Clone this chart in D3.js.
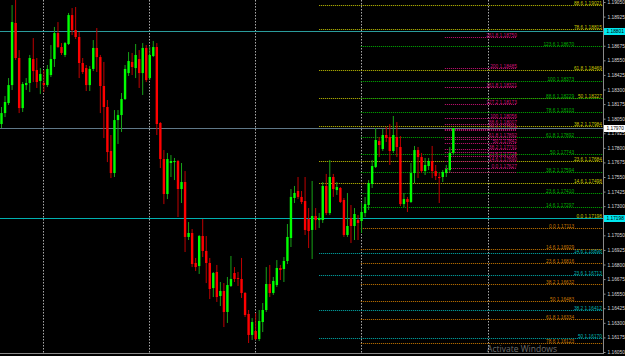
<!DOCTYPE html>
<html>
<head>
<meta charset="utf-8">
<script src="https://cdn.jsdelivr.net/npm/d3@7"></script>
<style>
  html, body { margin: 0; padding: 0; background: #000; overflow: hidden; }
</style>
</head>
<body>
<div id="chart"></div>
<script>
// Candle data, oldest first
const opens = [1.18004,1.18098,1.18184,1.18338,1.18870,1.18570,1.18141,1.18338,1.18356,1.18561,
  1.18467,1.18373,1.18356,1.18338,1.18424,1.18561,1.18784,1.18664,1.18596,1.18690,
  1.18938,1.18810,1.18750,1.18527,1.18484,1.18338,1.18476,1.18656,1.18578,1.18330,
  1.18150,1.17773,1.17584,1.18038,1.18081,1.18218,1.18441,1.18536,1.18484,1.18561,
  1.18441,1.18656,1.18398,1.18587,1.18664,1.18013,1.17704,1.17404,1.17670,1.17678,
  1.17687,1.17447,1.17507,1.17036,1.17070,1.16813,1.16787,1.17044,1.16916,1.16813,
  1.16598,1.16736,1.16530,1.16573,1.16393,1.16616,1.16727,1.16684,1.16676,1.16556,
  1.16376,1.16196,1.16230,1.16161,1.16307,1.16410,1.16633,1.16556,1.16624,1.16770,
  1.16761,1.16830,1.17027,1.17370,1.17430,1.17379,1.17344,1.17190,1.17096,1.17216,
  1.17181,1.17181,1.17473,1.17241,1.17550,1.17438,1.17456,1.17353,1.17053,1.17199,
  1.17130,1.17181,1.17173,1.17241,1.17310,1.17490,1.17636,1.17858,1.17790,1.17910,
  1.17893,1.17773,1.17893,1.17807,1.17318,1.17361,1.17336,1.17584,1.17781,1.17721,
  1.17601,1.17644,1.17687,1.17601,1.17550,1.17550,1.17584,1.17610,1.17756];
const highs = [1.18150,1.18244,1.18398,1.19024,1.19067,1.18638,1.18364,1.18398,1.18596,1.18741,
  1.18570,1.18484,1.18467,1.18510,1.18681,1.18836,1.18878,1.18698,1.18707,1.18956,
  1.18998,1.19007,1.18793,1.18570,1.18510,1.18501,1.18724,1.18827,1.18596,1.18536,
  1.18210,1.17910,1.18124,1.18124,1.18270,1.18510,1.18621,1.18613,1.18690,1.18638,
  1.18698,1.18681,1.18664,1.18716,1.18698,1.18021,1.17781,1.17756,1.17738,1.17713,
  1.17696,1.17670,1.17601,1.17164,1.17104,1.16856,1.17053,1.17190,1.17044,1.16856,
  1.16736,1.16796,1.16650,1.16641,1.16693,1.16873,1.16778,1.16736,1.16856,1.16564,
  1.16410,1.16341,1.16384,1.16410,1.16470,1.16778,1.16796,1.16693,1.16838,1.16796,
  1.16864,1.17147,1.17447,1.17473,1.17550,1.17430,1.17550,1.17284,1.17516,1.17284,
  1.17241,1.17507,1.17576,1.17696,1.17576,1.17507,1.17464,1.17370,1.17413,1.17310,
  1.17284,1.17224,1.17327,1.17379,1.17524,1.17696,1.17970,1.17893,1.17961,1.17978,
  1.18004,1.18073,1.18021,1.17901,1.17413,1.17379,1.17670,1.17816,1.17807,1.17756,
  1.17713,1.17713,1.17816,1.17653,1.17584,1.17610,1.17653,1.17807,1.17970];
const lows = [1.17970,1.18064,1.18167,1.18296,1.18553,1.18098,1.18107,1.18296,1.18278,1.18364,
  1.18313,1.18261,1.18278,1.18321,1.18407,1.18493,1.18656,1.18596,1.18578,1.18681,
  1.18767,1.18733,1.18398,1.18433,1.18287,1.18287,1.18458,1.18450,1.18098,1.17884,
  1.17678,1.17541,1.17550,1.17833,1.17936,1.18210,1.18416,1.18424,1.18398,1.18313,
  1.18253,1.18364,1.18381,1.18578,1.17910,1.17627,1.17318,1.17361,1.17550,1.17524,
  1.17207,1.17327,1.16907,1.17010,1.16778,1.16744,1.16719,1.16864,1.16641,1.16504,
  1.16521,1.16479,1.16444,1.16264,1.16299,1.16607,1.16650,1.16616,1.16513,1.16350,
  1.16127,1.16153,1.16153,1.16144,1.16221,1.16393,1.16521,1.16539,1.16607,1.16667,
  1.16650,1.16804,1.16950,1.17327,1.17361,1.17318,1.17053,1.16941,1.16847,1.17096,
  1.17113,1.17156,1.17224,1.17224,1.17379,1.17396,1.17327,1.17036,1.17036,1.16984,
  1.17010,1.17010,1.17070,1.17207,1.17267,1.17456,1.17627,1.17721,1.17773,1.17850,
  1.17653,1.17756,1.17721,1.17301,1.17293,1.17250,1.17327,1.17498,1.17541,1.17584,
  1.17567,1.17610,1.17541,1.17524,1.17327,1.17507,1.17550,1.17593,1.17738];
const closes = [1.18098,1.18193,1.18338,1.18878,1.18570,1.18141,1.18347,1.18356,1.18570,1.18458,
  1.18364,1.18433,1.18338,1.18476,1.18561,1.18784,1.18664,1.18613,1.18698,1.18938,
  1.18810,1.18750,1.18527,1.18450,1.18338,1.18476,1.18656,1.18578,1.18330,1.18150,
  1.17764,1.17584,1.18038,1.18081,1.18218,1.18476,1.18544,1.18493,1.18596,1.18441,
  1.18656,1.18381,1.18596,1.18664,1.18004,1.17704,1.17404,1.17704,1.17687,1.17687,
  1.17447,1.17507,1.17036,1.17070,1.16804,1.16778,1.17044,1.16916,1.16813,1.16590,
  1.16727,1.16521,1.16573,1.16393,1.16624,1.16676,1.16676,1.16676,1.16556,1.16367,
  1.16196,1.16307,1.16161,1.16316,1.16410,1.16633,1.16556,1.16659,1.16770,1.16753,
  1.16830,1.17036,1.17379,1.17413,1.17379,1.17336,1.17096,1.17087,1.17216,1.17181,
  1.17199,1.17473,1.17241,1.17550,1.17447,1.17464,1.17336,1.17053,1.17130,1.17130,
  1.17233,1.17156,1.17250,1.17318,1.17498,1.17644,1.17867,1.17824,1.17910,1.17884,
  1.17773,1.17910,1.17807,1.17318,1.17361,1.17336,1.17584,1.17781,1.17721,1.17601,
  1.17653,1.17687,1.17601,1.17558,1.17541,1.17593,1.17618,1.17756,1.17970];

// price scale labels
const tickLabels = ["1.19050","1.18925","1.18800","1.18675","1.18550","1.18425","1.18300","1.18175",
  "1.18050","1.17925","1.17800","1.17675","1.17550","1.17425","1.17300","1.17175","1.17050",
  "1.16925","1.16800","1.16675","1.16550","1.16425","1.16300","1.16175","1.16050"];

// period separators (bar index)
const separators = [11.75, 41.75, 71.75, 101.75, 137.75];

// horizontal lines
const hLinePrices = [1.18801, 1.17198];

// fibonacci levels
const yellowLevels = ["0.0","14.6","23.6","38.2","50","61.8","78.6","88.6"];
const yellowPrices = [1.17198,1.17498,1.17684,1.17984,1.18227,1.18469,1.18815,1.19021];
const cyanLevels = ["14.6","23.6","38.2","50"];
const cyanPrices = [1.16898,1.16713,1.16412,1.16170];
const greenLevels = ["14.6","23.6","38.2","50","61.8","78.6","88.6","100","123.6"];
const greenPrices = [1.17297,1.17410,1.17594,1.17743,1.17892,1.18103,1.18229,1.18373,1.18670];
const orangeLevels = ["0.0","14.6","23.6","38.2","50","61.8","78.6"];
const orangePrices = [1.17113,1.16929,1.16816,1.16632,1.16483,1.16334,1.16123];
const pinkLevels = ["0.0","14.6","23.6","38.2","50","61.8","78.6","88.6","100","127.2","161.8","200","261.8"];
const pinkPrices = [1.17627,1.17690,1.17728,1.17791,1.17842,1.17892,1.17964,1.18007,1.18056,1.18173,1.18321,1.18485,1.18750];
const pink2Prices = [1.17593,1.17768,1.17876,1.17953];

const W = 625, H = 356, plotRight = 603, plotBottom = 353;
const font = "'Liberation Sans', Arial, sans-serif";

const svg = d3.select("#chart").append("svg")
    .attr("width", W).attr("height", H)
    .style("background", "#000")
    .style("display", "block");

const x = d3.scaleLinear().domain([0, 170]).range([1.5, 1.5 + 170 * 3.53]);
const y = d3.scaleLinear().domain([1.16050, 1.19050]).range([352, 2]);
const fmt = d3.format(".5f");

const plot = svg.append("g");

// Period separators
plot.append("g").selectAll("line")
    .data(separators)
    .join("line")
    .attr("x1", d => Math.round(x(d)) + 0.5)
    .attr("x2", d => Math.round(x(d)) + 0.5)
    .attr("y1", 0).attr("y2", plotBottom)
    .attr("stroke", "#a8a8a8")
    .attr("stroke-width", 1)
    .attr("stroke-dasharray", "1.5,1.5");

// Fibonacci sets
function drawFib(levels, prices, color, startIdx, endX, labelIdx) {
    const g = plot.append("g");
    const rows = prices.map((p, i) => ({ lv: levels ? levels[i] : null, p }));
    g.selectAll("line")
        .data(rows)
        .join("line")
        .attr("x1", x(startIdx))
        .attr("x2", endX)
        .attr("y1", d => Math.round(y(d.p)) + 0.5)
        .attr("y2", d => Math.round(y(d.p)) + 0.5)
        .attr("stroke", color)
        .attr("stroke-width", 1)
        .attr("stroke-dasharray", "1,1");
    if (!levels) return;
    g.selectAll("text")
        .data(rows)
        .join("text")
        .attr("x", x(labelIdx))
        .attr("y", d => Math.round(y(d.p)) - 0.3)
        .attr("text-anchor", "end")
        .attr("fill", color)
        .style("font-family", font)
        .style("font-size", "4.8px")
        .text(d => d.lv + "  " + fmt(d.p));
}

drawFib(yellowLevels, yellowPrices, "#c8c800", 90, plotRight, 170.1);
drawFib(cyanLevels, cyanPrices, "#00b4b4", 90, plotRight, 170.1);
drawFib(greenLevels, greenPrices, "#00b000", 101.8, plotRight, 162.2);
drawFib(orangeLevels, orangePrices, "#cc7a00", 101.8, plotRight, 162.2);
drawFib(pinkLevels, pinkPrices, "#cc1177", 125.6, x(146), 146);
drawFib(null, pink2Prices, "#cc1177", 125.6, x(146), 146);

// Horizontal lines
const hColors = ["#2a9c9c", "#00b0b0"];
plot.append("g").selectAll("line")
    .data(hLinePrices)
    .join("line")
    .attr("x1", 0).attr("x2", plotRight)
    .attr("y1", d => Math.round(y(d)) + 0.5)
    .attr("y2", d => Math.round(y(d)) + 0.5)
    .attr("stroke", (d, i) => hColors[i])
    .attr("stroke-width", 1);

// Bid line
const lastClose = closes[closes.length - 1];
plot.append("line")
    .attr("x1", 0).attr("x2", plotRight)
    .attr("y1", Math.round(y(lastClose)) + 0.5)
    .attr("y2", Math.round(y(lastClose)) + 0.5)
    .attr("stroke", "#5f7888")
    .attr("stroke-width", 1);

// Candles
const candles = opens.map((o, i) => ({ i, o, h: highs[i], l: lows[i], c: closes[i] }));
const cg = plot.append("g");
cg.selectAll("line")
    .data(candles)
    .join("line")
    .attr("x1", d => x(d.i)).attr("x2", d => x(d.i))
    .attr("y1", d => y(d.h)).attr("y2", d => y(d.l))
    .attr("stroke", d => d.c >= d.o ? "#17a317" : "#c00000")
    .attr("stroke-width", 1);
cg.selectAll("rect")
    .data(candles)
    .join("rect")
    .attr("x", d => x(d.i) - 1.2)
    .attr("width", 2.4)
    .attr("y", d => y(Math.max(d.o, d.c)))
    .attr("height", d => Math.max(0.8, Math.abs(y(d.o) - y(d.c))))
    .attr("fill", d => d.c >= d.o ? "#00ff00" : "#ff0000");

// Price boxes on the axis
const boxes = [
    { p: hLinePrices[0], fill: "#00e8f0" },
    { p: lastClose, fill: "#ffffff" },
    { p: hLinePrices[1], fill: "#00e8f0" }
];

// Price axis (labels hidden under a price box are left out)
const shownTicks = tickLabels.map(Number)
    .filter(v => boxes.every(b => Math.abs(y(v) - y(b.p)) > 4));
const axis = svg.append("g")
    .attr("transform", `translate(${plotRight + 0.5},0)`)
    .call(d3.axisRight(y)
        .tickValues(shownTicks)
        .tickFormat(fmt)
        .tickSize(2)
        .tickSizeOuter(0)
        .tickPadding(2));
axis.select(".domain").attr("stroke", "#8a8a8a").attr("d", `M0,0V${plotBottom}`);
axis.selectAll(".tick line").attr("stroke", "#8a8a8a");
axis.selectAll(".tick text")
    .attr("fill", "#d8d8d8")
    .style("font-family", font)
    .style("font-size", "4.8px");

// bottom axis line
svg.append("line")
    .attr("x1", 0).attr("x2", plotRight + 1)
    .attr("y1", plotBottom + 0.5).attr("y2", plotBottom + 0.5)
    .attr("stroke", "#8a8a8a");

const bg = svg.append("g");
bg.selectAll("rect")
    .data(boxes)
    .join("rect")
    .attr("x", plotRight + 1)
    .attr("y", d => Math.round(y(d.p)) - 3)
    .attr("width", 21).attr("height", 7)
    .attr("fill", d => d.fill);
bg.selectAll("text")
    .data(boxes)
    .join("text")
    .attr("x", plotRight + 3.5)
    .attr("y", d => Math.round(y(d.p)) + 2)
    .attr("fill", "#000")
    .style("font-family", font)
    .style("font-size", "4.8px")
    .text(d => fmt(d.p));

// Windows watermark
svg.append("text")
    .attr("x", 487).attr("y", 351.5)
    .attr("fill", "rgba(200,200,200,0.55)")
    .attr("textLength", 70)
    .style("font-family", "'Open Sans', sans-serif")
    .style("font-size", "8.5px")
    .text("Activate Windows");
</script>
</body>
</html>
